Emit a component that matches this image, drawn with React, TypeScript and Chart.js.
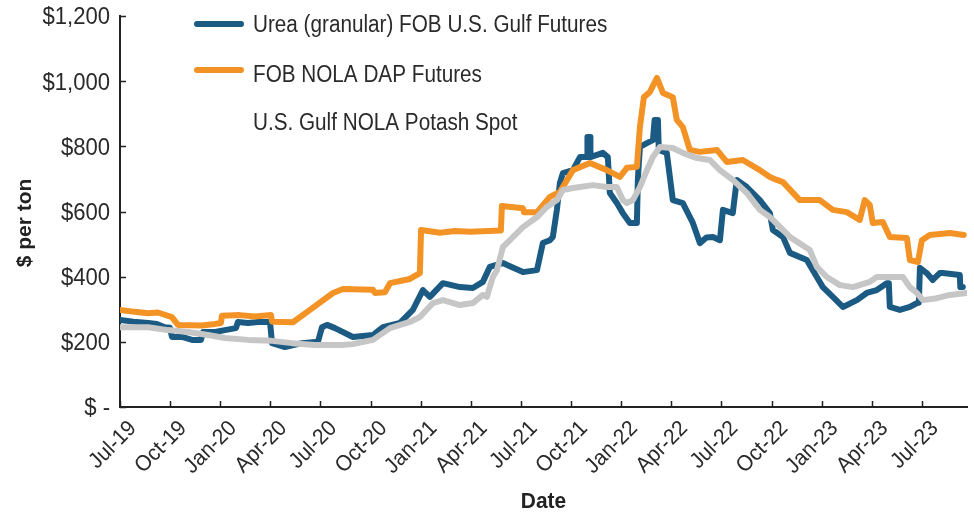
import React, { useEffect, useRef } from 'react';
import { Chart, registerables } from 'chart.js';

Chart.register(...registerables);

const FONT = "'Liberation Sans', Arial, sans-serif";

// x values: months since 1 Jul 2019
const xTickLabels = [
  'Jul-19', 'Oct-19', 'Jan-20', 'Apr-20', 'Jul-20', 'Oct-20', 'Jan-21', 'Apr-21', 'Jul-21',
  'Oct-21', 'Jan-22', 'Apr-22', 'Jul-22', 'Oct-22', 'Jan-23', 'Apr-23', 'Jul-23',
];
const yTickValues = [0, 200, 400, 600, 800, 1000, 1200];
const seriesNames = [
  'Urea (granular) FOB U.S. Gulf Futures',
  'FOB NOLA DAP Futures',
  'U.S. Gulf NOLA Potash Spot',
];
const seriesColors = ['#1b5b83', '#f39325', '#c6c6c6'];

const ureaMonths = [
  0, 0.8, 1.68, 2.2, 2.69, 2.99, 3.11, 3.71, 4.31, 4.85, 4.97, 5.69, 6.28, 6.94, 7.06, 7.66, 8.26, 8.98,
  9.10, 9.87, 10.89, 11.85, 12.09, 12.39, 12.87, 13.94, 15.14, 15.74, 16.76, 17.53, 18.13, 18.55,
  19.33, 20.35, 21.12, 21.72, 22.14, 22.92, 23.34, 24.12, 24.96, 25.31, 25.73, 25.91, 26.15, 26.33,
  26.51, 27.11, 27.53, 27.96, 27.98, 28.14, 28.16, 28.9, 29.2, 29.32, 29.74, 30.1, 30.52, 30.94, 31.0, 31.12,
  31.54, 31.9, 32.0, 32.2, 32.25, 32.73, 33.09, 33.69, 34.29, 34.71, 35.1, 35.49, 35.91, 36.09, 36.68, 36.92,
  37.52, 38.3, 38.9, 39.08, 39.68, 40.1, 41.11, 41.71, 42.07, 42.67, 43.27, 44.11, 44.7, 45.3,
  45.9, 46.02, 46.08, 46.68, 47.28, 47.7, 47.82, 47.88, 48.29, 48.65, 49.07, 49.25, 50.27, 50.3, 50.45,
];
const ureaPrices = [
  267, 262, 258, 255, 245, 243, 215, 215, 206, 206, 230, 230, 236, 242, 261, 258, 261, 261,
  196, 184, 196, 200, 245, 252, 242, 215, 221, 245, 258, 298, 359, 338,
  380, 368, 365, 384, 430, 442, 432, 414, 420, 503, 512, 522, 605, 687,
  718, 727, 767, 767, 829, 829, 767, 780, 767, 657, 626, 595, 565, 565, 700, 798,
  810, 819, 881, 881, 789, 780, 635, 626, 565, 503, 520, 522, 512, 605, 595, 697,
  675, 635, 595, 543, 522, 473, 451, 399, 368, 338, 307, 328, 350, 359,
  380, 380, 307, 298, 307, 319, 320, 427, 411, 390, 411, 411, 405, 368, 368,
];

const dapMonths = [
  0, 0.9, 1.68, 2.27, 3.11, 3.47, 4.91, 5.69, 6.04, 6.1, 7.18, 8.08, 9.04, 9.1, 10.35, 11.37,
  12.75, 13.35, 15.14, 15.26, 15.86, 16.16, 17.35, 17.95, 18.02, 19.15, 20.05, 20.95, 22.8, 22.86,
  24.12, 24.18, 24.96, 25.73, 26.33, 27.11, 28.13, 29.14, 29.92, 30.34, 30.94, 31.12, 31.36, 31.72,
  32.14, 32.5, 33.09, 33.33, 33.69, 34.11, 34.71, 35.73, 36.32, 37.28, 38.3, 38.9, 39.32, 39.68,
  40.69, 41.89, 42.67, 43.51, 44.28, 44.58, 44.88, 45.06, 45.66, 46.08, 47.1, 47.28, 47.76, 48.0,
  48.47, 49.67, 50.51,
];
const dapPrices = [
  298, 292, 288, 290, 276, 252, 250, 255, 258, 280, 282, 278, 282, 262, 260, 298,
  350, 362, 360, 350, 352, 380, 393, 411, 543, 535, 540, 538, 542, 617,
  610, 598, 598, 645, 660, 727, 749, 727, 706, 734, 737, 859, 951, 967,
  1010, 964, 951, 881, 859, 789, 783, 789, 752, 758, 727, 706, 697, 690,
  635, 635, 605, 598, 574, 635, 620, 565, 568, 522, 519, 451, 445, 512,
  528, 534, 528,
];

const potashMonths = [
  0, 1.68, 2.87, 4.07, 5.27, 6.28, 7.66, 9.1, 10.29, 11.67, 13.29, 13.94, 15.14, 16.16, 17.35, 17.95,
  18.73, 19.33, 20.35, 21.12, 21.72, 21.96, 22.32, 22.56, 22.92, 23.34, 24.12, 24.96, 25.55, 26.15,
  26.51, 27.11, 28.31, 29.14, 29.74, 30.1, 30.34, 30.7, 31.12, 31.54, 31.9, 32.32, 33.09, 33.69,
  34.53, 35.31, 35.91, 36.68, 37.52, 38.3, 38.9, 39.08, 40.1, 41.29, 41.71, 42.31, 43.09, 43.87,
  44.88, 45.3, 46.86, 47.28, 47.7, 48.06, 48.89, 49.67, 50.69,
];
const potashPrices = [
  245, 245, 236, 230, 221, 212, 206, 203, 196, 190, 190, 193, 206, 242, 261, 276,
  319, 328, 313, 319, 344, 338, 399, 420, 491, 512, 552, 583, 614, 635,
  666, 672, 681, 675, 675, 635, 626, 635, 675, 727, 767, 798, 795, 780,
  764, 758, 727, 697, 657, 605, 583, 574, 522, 482, 430, 399, 374, 368,
  384, 399, 399, 368, 350, 328, 334, 344, 350,
];

const X_MAX = 50.7;

const toPoints = (xs: number[], ys: number[]) => xs.map((x, i) => ({ x, y: ys[i] }));

function drawText(
  ctx: CanvasRenderingContext2D,
  text: string,
  x: number,
  y: number,
  opts: { size: number; bold?: boolean; sx?: number; align?: CanvasTextAlign; baseline?: CanvasTextBaseline; rot?: number; color?: string },
) {
  ctx.save();
  ctx.translate(x, y);
  if (opts.rot) ctx.rotate(opts.rot);
  ctx.scale(opts.sx ?? 1, 1);
  ctx.font = `${opts.bold ? 'bold ' : ''}${opts.size}px ${FONT}`;
  ctx.textAlign = opts.align ?? 'left';
  ctx.textBaseline = opts.baseline ?? 'alphabetic';
  ctx.fillStyle = opts.color ?? '#2a2a2a';
  ctx.fillText(text, 0, 0);
  ctx.restore();
}

const decorPlugin = {
  id: 'decor',
  beforeDatasetsDraw(chart: any) {
    const { ctx, chartArea, scales } = chart;
    const x = scales.x;
    const y = scales.y;
    ctx.save();
    ctx.strokeStyle = '#222';
    ctx.lineWidth = 1.5;
    ctx.beginPath();
    yTickValues.forEach((v) => {
      const py = Math.round(y.getPixelForValue(v)) + 0.5;
      ctx.moveTo(chartArea.left, py);
      ctx.lineTo(chartArea.left + 6, py);
    });
    xTickLabels.forEach((_, i) => {
      const px = Math.round(x.getPixelForValue(i * 3)) + 0.5;
      ctx.moveTo(px, chartArea.bottom);
      ctx.lineTo(px, chartArea.bottom - 6);
    });
    ctx.stroke();
    ctx.restore();
  },
  afterDraw(chart: any) {
    const { ctx, chartArea, scales } = chart;
    const x = scales.x;
    const y = scales.y;
    // y tick labels
    yTickValues.forEach((v) => {
      const label = v === 0 ? '$ -' : '$' + v.toLocaleString('en-US');
      drawText(ctx, label, chartArea.left - 10, y.getPixelForValue(v) + 2, {
        size: 23, sx: 0.96, align: 'right', baseline: 'middle',
      });
    });
    // x tick labels
    xTickLabels.forEach((label, i) => {
      const px = x.getPixelForValue(i * 3);
      drawText(ctx, label, px + 13, chartArea.bottom + 18, {
        size: 22, sx: 0.95, align: 'right', baseline: 'middle', rot: -Math.PI / 4,
      });
    });
    // legend
    const lineRows = [24, 70];
    const textBase = [32, 82, 130];
    ctx.save();
    ctx.lineWidth = 6;
    ctx.lineCap = 'round';
    lineRows.forEach((cy, i) => {
      ctx.strokeStyle = seriesColors[i];
      ctx.beginPath();
      ctx.moveTo(197, cy);
      ctx.lineTo(241, cy);
      ctx.stroke();
    });
    ctx.restore();
    seriesNames.forEach((name, i) => {
      drawText(ctx, name, 253, textBase[i], { size: 23, sx: 0.9 });
    });
    // axis titles
    drawText(ctx, 'Date', (chartArea.left + chartArea.right) / 2, 508, {
      size: 22, bold: true, align: 'center', color: '#222', sx: 0.95,
    });
    drawText(ctx, '$ per ton', 25, 223, {
      size: 21, bold: true, align: 'center', baseline: 'middle', rot: -Math.PI / 2, color: '#222',
    });
  },
};

export default function App() {
  const canvasRef = useRef<HTMLCanvasElement | null>(null);

  useEffect(() => {
    document.body.style.margin = '0';
    const canvas = canvasRef.current;
    if (!canvas) return;
    const common = { pointRadius: 0, tension: 0, borderWidth: 6, borderJoinStyle: 'round' as const, borderCapStyle: 'round' as const };
    const chart = new Chart(canvas, {
      type: 'line',
      data: {
        datasets: [
          { label: seriesNames[0], data: toPoints(ureaMonths, ureaPrices), borderColor: seriesColors[0], order: 2, ...common },
          { label: seriesNames[1], data: toPoints(dapMonths, dapPrices), borderColor: seriesColors[1], order: 1, ...common },
          { label: seriesNames[2], data: toPoints(potashMonths, potashPrices), borderColor: seriesColors[2], order: 0, ...common },
        ],
      },
      options: {
        animation: false,
        responsive: false,
        maintainAspectRatio: false,
        layout: { padding: { top: 16, right: 7, left: 0, bottom: 0 } },
        plugins: {
          legend: { display: false },
          tooltip: { enabled: false },
        },
        scales: {
          x: {
            type: 'linear',
            min: 0,
            max: X_MAX,
            afterBuildTicks: (scale: any) => {
              scale.ticks = xTickLabels.map((_, i) => ({ value: i * 3 }));
            },
            afterFit: (scale: any) => {
              scale.height = 105;
            },
            ticks: { display: false },
            grid: { display: true, drawOnChartArea: false, drawTicks: false },
            border: { display: true, color: '#222', width: 2 },
          },
          y: {
            min: 0,
            max: 1200,
            afterBuildTicks: (scale: any) => {
              scale.ticks = yTickValues.map((v) => ({ value: v }));
            },
            afterFit: (scale: any) => {
              scale.width = 120;
            },
            ticks: { display: false },
            grid: { display: true, drawOnChartArea: false, drawTicks: false },
            border: { display: true, color: '#222', width: 2 },
          },
        },
      },
      plugins: [decorPlugin],
    });
    return () => chart.destroy();
  }, []);

  return (
    <div style={{ width: 974, height: 512, background: '#fff' }}>
      <canvas ref={canvasRef} width={974} height={512} style={{ display: 'block' }} />
    </div>
  );
}
